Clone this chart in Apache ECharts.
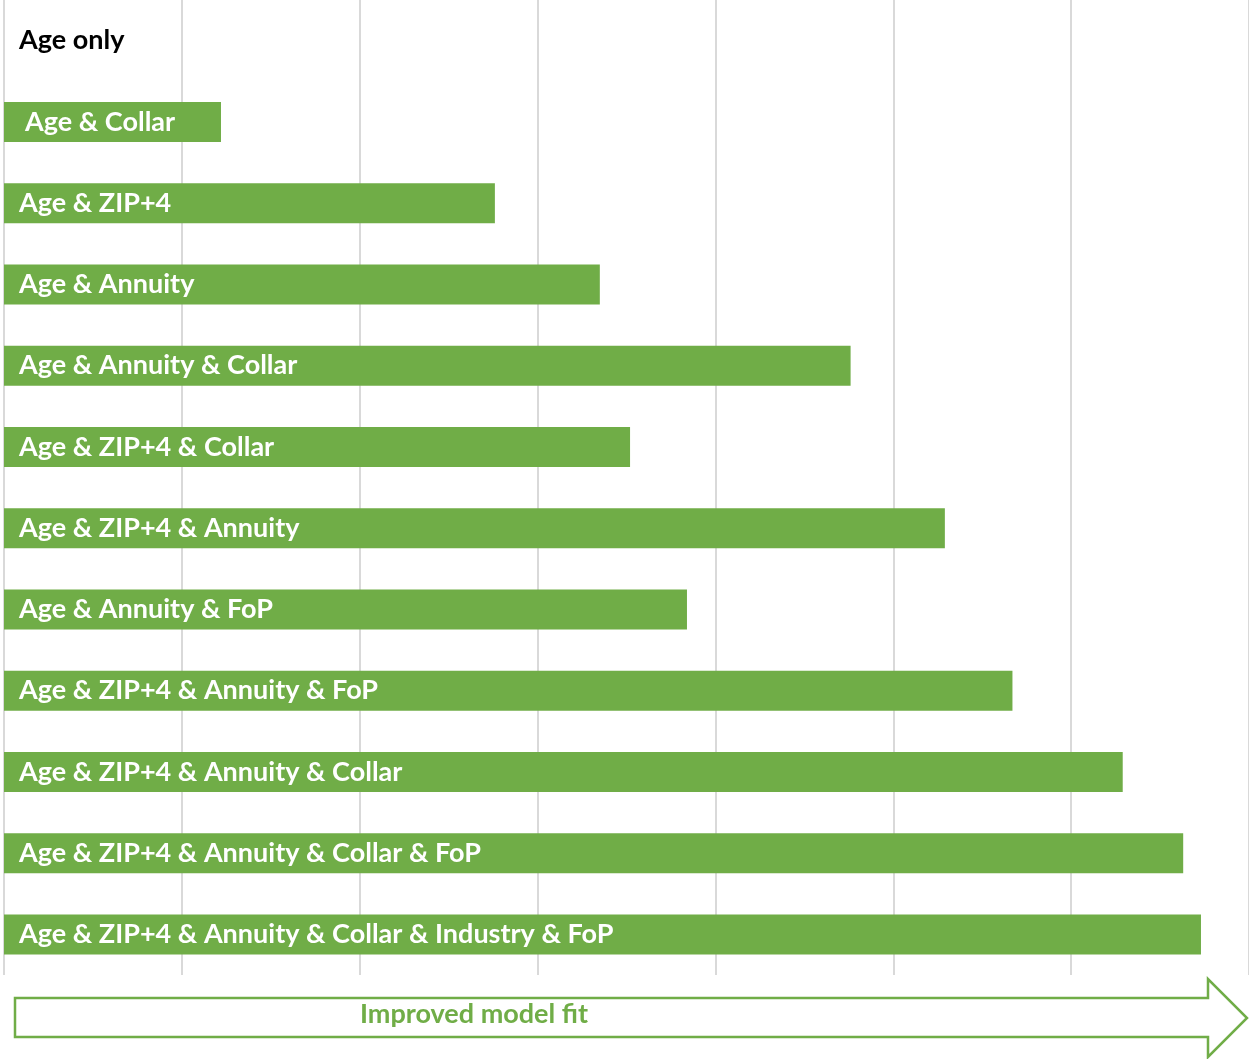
<!DOCTYPE html>
<html>
<head>
<meta charset="utf-8">
<script src="https://cdn.jsdelivr.net/npm/echarts@6/dist/echarts.min.js"></script>
<style>
  html, body { margin: 0; padding: 0; background: #fff; }
  #chart { width: 1249px; height: 1059px; }
</style>
</head>
<body>
<div id="chart"></div>
<script>
// Model variants, top to bottom
const models = [
  'Age only',
  'Age & Collar',
  'Age & ZIP+4',
  'Age & Annuity',
  'Age & Annuity & Collar',
  'Age & ZIP+4 & Collar',
  'Age & ZIP+4 & Annuity',
  'Age & Annuity & FoP',
  'Age & ZIP+4 & Annuity & FoP',
  'Age & ZIP+4 & Annuity & Collar',
  'Age & ZIP+4 & Annuity & Collar & FoP',
  'Age & ZIP+4 & Annuity & Collar & Industry & FoP'
];

// Improvement in fit relative to the age-only model
const fitGain = [0, 1.22, 2.76, 3.35, 4.76, 3.52, 5.29, 3.84, 5.67, 6.29, 6.63, 6.73];

const axisMin = 0;
const axisMax = 7;
const axisStep = 1;

const green = '#70AD47';

const chart = echarts.init(document.getElementById('chart'));

chart.setOption({
  animation: false,
  grid: { left: 4, top: 0, width: 1245, height: 975, containLabel: false },
  xAxis: {
    type: 'value',
    min: axisMin,
    max: axisMax,
    interval: axisStep,
    axisLabel: { show: false },
    axisLine: { show: false },
    axisTick: { show: false },
    splitLine: { show: true, lineStyle: { color: '#d9d9d9', width: 2 } }
  },
  yAxis: {
    type: 'category',
    data: models,
    inverse: true,
    axisLabel: { show: false },
    axisLine: { show: false },
    axisTick: { show: false }
  },
  series: [{
    type: 'bar',
    barWidth: 40,
    itemStyle: { color: green },
    data: fitGain.map((v, i) => ({
      value: v,
      label: {
        color: v === 0 ? '#000' : '#fff',
        distance: i === 1 ? 21 : 15
      }
    })),
    label: {
      show: true,
      position: 'insideLeft',
      distance: 15,
      formatter: p => models[p.dataIndex],
      fontFamily: 'Lato',
      fontWeight: 'bold',
      fontSize: 27
    }
  }],
  graphic: [
    {
      type: 'polygon',
      shape: {
        points: [
          [15, 998], [1208, 998], [1208, 979], [1247, 1018],
          [1208, 1057], [1208, 1037], [15, 1037]
        ]
      },
      style: { fill: '#fff', stroke: green, lineWidth: 2.5 }
    },
    {
      type: 'text',
      left: 360,
      top: 1001,
      style: {
        text: 'Improved model fit',
        fill: green,
        font: 'bold 27px Lato'
      }
    }
  ]
});
</script>
</body>
</html>
